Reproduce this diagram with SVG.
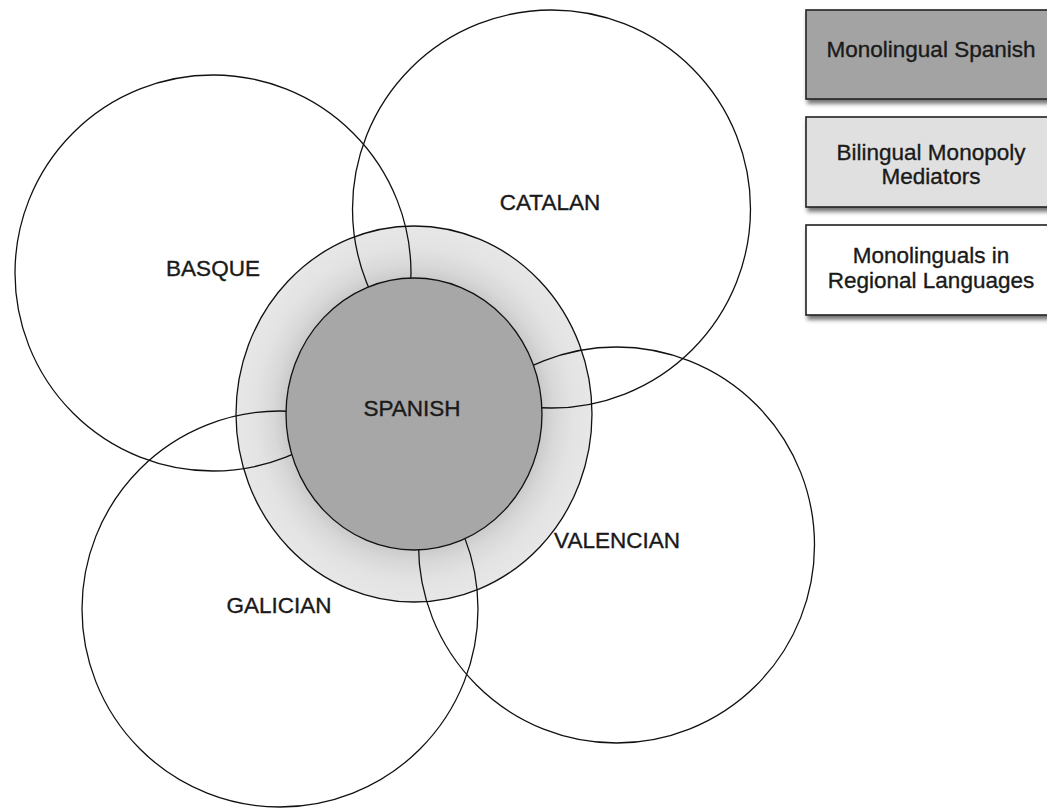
<svg xmlns="http://www.w3.org/2000/svg" width="1047" height="809" viewBox="0 0 1047 809">
  <defs>
    <radialGradient id="ringGrad" cx="0.5" cy="0.5" r="0.5">
      <stop offset="0" stop-color="#c0c0c0"/>
      <stop offset="0.70" stop-color="#c6c6c6"/>
      <stop offset="0.79" stop-color="#d8d8d8"/>
      <stop offset="0.89" stop-color="#e3e3e3"/>
      <stop offset="1" stop-color="#e7e7e7"/>
    </radialGradient>
    <filter id="shadow" x="-10%" y="-10%" width="130%" height="140%">
      <feDropShadow dx="2" dy="4" stdDeviation="2" flood-color="#000" flood-opacity="0.55"/>
    </filter>
  </defs>
  <style>
    .lang { fill: none; stroke: #111; stroke-width: 1.3; }
    .label { font-family: "Liberation Sans", Arial, sans-serif; font-size: 22.5px; fill: #1a1a1a; stroke: #1a1a1a; stroke-width: 0.35; text-anchor: middle; }
    .box { stroke: #222; stroke-width: 1.6; filter: url(#shadow); }
    .legend { font-family: "Liberation Sans", Arial, sans-serif; font-size: 22.5px; fill: #1a1a1a; stroke: #1a1a1a; stroke-width: 0.35; text-anchor: middle; }
  </style>
  <rect width="1047" height="809" fill="#ffffff"/>

  <g id="bilingual-ring">
    <ellipse cx="414" cy="414" rx="178" ry="188" fill="url(#ringGrad)" stroke="#111" stroke-width="1.3"/>
  </g>

  <g id="connectors"></g>

  <g id="basque">
    <circle class="lang" cx="213" cy="273" r="198"/>
    <text class="label" x="213" y="276">BASQUE</text>
  </g>
  <g id="catalan">
    <circle class="lang" cx="551.5" cy="209" r="199"/>
    <text class="label" x="550" y="210">CATALAN</text>
  </g>
  <g id="valencian">
    <circle class="lang" cx="616.5" cy="545" r="198"/>
    <text class="label" x="617" y="548">VALENCIAN</text>
  </g>
  <g id="galician">
    <circle class="lang" cx="280" cy="609" r="198"/>
    <text class="label" x="279" y="613">GALICIAN</text>
  </g>

  <g id="spanish">
    <ellipse cx="414" cy="414" rx="128" ry="136" fill="#a6a7a6" stroke="#111" stroke-width="1.3"/>
    <text class="label" x="412" y="416">SPANISH</text>
  </g>

  <g id="legend-monolingual-spanish">
    <rect class="box" x="806" y="10" width="252" height="89" fill="#a3a3a3"/>
    <text class="legend" x="931" y="57">Monolingual Spanish</text>
  </g>
  <g id="legend-bilingual">
    <rect class="box" x="806" y="117" width="252" height="90" fill="#e0e0e0"/>
    <text class="legend" x="931" y="160">Bilingual Monopoly</text>
    <text class="legend" x="931" y="184">Mediators</text>
  </g>
  <g id="legend-regional">
    <rect class="box" x="806" y="225" width="252" height="90" fill="#ffffff"/>
    <text class="legend" x="931" y="263">Monolinguals in</text>
    <text class="legend" x="931" y="288">Regional Languages</text>
  </g>
</svg>
